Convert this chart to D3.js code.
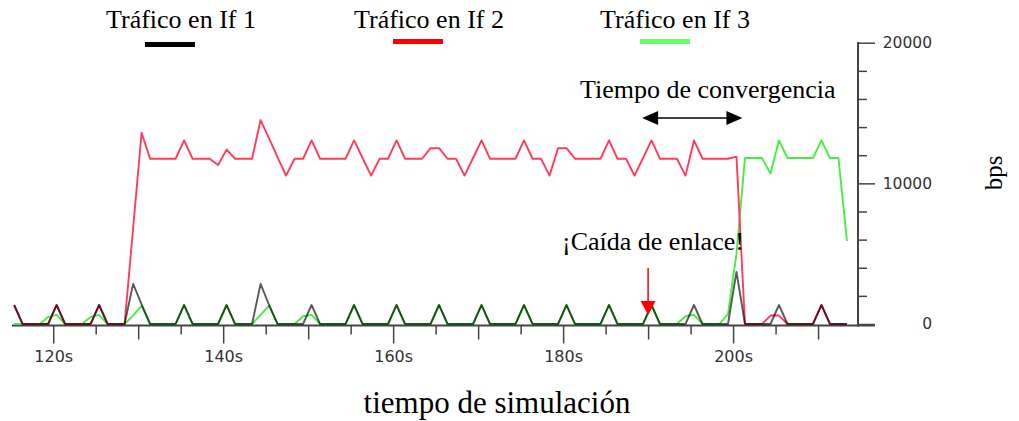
<!DOCTYPE html>
<html><head><meta charset="utf-8">
<script src="https://cdn.jsdelivr.net/npm/d3@7"></script>
<style>body{margin:0;background:#fff} svg{display:block}</style>
</head><body>
<svg id="c" width="1019" height="421"></svg>
<script>
// sample times (s)
const times = [115.4,116.4,117.4,118.4,119.4,120.4,121.4,122.4,123.4,124.4,125.4,126.4,127.4,128.4,129.4,130.4,131.4,132.4,133.4,134.4,
 135.4,136.4,137.4,138.4,139.4,140.4,141.4,142.4,143.4,144.4,145.4,146.4,147.4,148.4,149.4,150.4,151.4,152.4,153.4,154.4,
 155.4,156.4,157.4,158.4,159.4,160.4,161.4,162.4,163.4,164.4,165.4,166.4,167.4,168.4,169.4,170.4,171.4,172.4,173.4,174.4,
 175.4,176.4,177.4,178.4,179.4,180.4,181.4,182.4,183.4,184.4,185.4,186.4,187.4,188.4,189.4,190.4,191.4,192.4,193.4,194.4,
 195.4,196.4,197.4,198.4,199.4,200.4,201.4,202.4,203.4,204.4,205.4,206.4,207.4,208.4,209.4,210.4,211.4,212.4,213.4];
// Tráfico en If 1 (bps)
const if1 = [1350,0,0,0,0,1350,0,0,0,0,1350,0,0,0,2850,1400,0,0,0,0,
 1350,0,0,0,0,1350,0,0,0,2850,1350,0,0,0,0,1350,0,0,0,0,
 1350,0,0,0,0,1350,0,0,0,0,1350,0,0,0,0,1350,0,0,0,0,
 1350,0,0,0,0,1350,0,0,0,0,1350,0,0,0,0,1350,0,0,0,0,
 1350,0,0,0,0,3700,0,0,0,0,1350,0,0,0,0,1350,0,0,0];
// Tráfico en If 2 (bps)
const if2 = [1350,0,0,0,0,1350,0,0,0,0,1350,0,0,0,6800,13600,11750,11750,11750,11750,
 13050,11750,11750,11750,11300,12400,11750,11750,11750,14500,13200,11850,10550,11750,11750,13050,11750,11750,11750,11750,
 13050,11800,10550,11750,11750,13050,11750,11750,11750,12500,12500,11750,11750,10550,11800,13050,11750,11750,11750,11750,
 13050,11750,11750,10550,12500,12500,11750,11750,11750,11750,13050,11750,11750,10550,11800,13050,11750,11750,11750,10550,
 13050,11750,11750,11750,11750,11900,0,0,0,600,600,0,0,0,0,1350,0,0,0];
// Tráfico en If 3 (bps)
const if3 = [0,0,0,0,500,650,0,0,0,500,650,0,0,0,600,1300,0,0,0,0,
 1350,0,0,0,0,1350,0,0,0,650,1300,0,0,0,550,650,0,0,0,0,
 1350,0,0,0,0,1350,0,0,0,0,1350,0,0,0,0,1350,0,0,0,0,
 1350,0,0,0,0,1350,0,0,0,0,1350,0,0,0,0,1350,0,0,0,550,
 650,0,0,0,700,5000,11800,11800,11800,10700,13050,11800,11800,11800,11800,13050,11800,11800,5900];

const seriesNames = ["Tráfico en If 1","Tráfico en If 2","Tráfico en If 3"];
const legendColors = ["#000000","#ff0000","#66ff66"];
const xTicks = [120,125,130,135,140,145,150,155,160,165,170,175,180,185,190,195,200,205,210];
const xLabelTicks = [120,140,160,180,200];
const yTicks = [0,2000,4000,6000,8000,10000,12000,14000,16000,18000,20000];
const yLabelTicks = [0,10000,20000];

const svg = d3.select("#c");
const serif = "'Liberation Serif','Times New Roman',serif";
const sans = "'DejaVu Sans',sans-serif";

const x = d3.scaleLinear().domain([115.15, 214.7]).range([12, 858]);
const y = d3.scaleLinear().domain([0, 20000]).range([324, 42.7]);
const baseY = 325.5;

// x axis
const xa = svg.append("g").attr("transform", `translate(0,${baseY})`)
  .call(d3.axisBottom(x).tickValues(xTicks).tickSize(9)
    .tickFormat(d => xLabelTicks.includes(d) ? d + "s" : ""));
xa.select(".domain").remove();
xa.selectAll(".tick line")
  .attr("y2", d => d % 20 === 0 ? 18 : (d % 10 === 0 ? 14 : 9))
  .attr("stroke", "#444").attr("stroke-width", 1.5);
xa.selectAll(".tick text").attr("y", 25).attr("dy", "0.71em")
  .attr("font-family", sans).attr("font-size", 16).attr("fill", "#333");
svg.append("line").attr("x1", 12).attr("x2", 875).attr("y1", baseY).attr("y2", baseY)
  .attr("stroke", "#444").attr("stroke-width", 2);

// right y axis
const ya = svg.append("g").attr("transform", `translate(${x.range()[1]},0)`)
  .call(d3.axisRight(y).tickValues(yTicks).tickSize(9)
    .tickFormat(d => yLabelTicks.includes(d) ? d : ""));
ya.select(".domain").remove();
ya.selectAll(".tick line")
  .attr("x2", d => yLabelTicks.includes(d) ? 17 : 9)
  .attr("stroke", "#444").attr("stroke-width", 1.5);
ya.selectAll(".tick text").attr("x", 74).attr("text-anchor", "end")
  .attr("font-family", sans).attr("font-size", 15.5).attr("fill", "#333");
svg.append("line").attr("x1", 858).attr("x2", 858).attr("y1", y(20000) - 0.75).attr("y2", baseY + 1)
  .attr("stroke", "#444").attr("stroke-width", 2);

// lines
const line = vals => d3.line().x((d, i) => x(times[i])).y(d => y(d))(vals);
svg.append("path").attr("d", line(if3)).attr("fill", "none")
  .attr("stroke", "#44ee44").attr("stroke-width", 1.9).attr("stroke-linejoin", "round");
svg.append("path").attr("d", line(if2)).attr("fill", "none")
  .attr("stroke", "#ff3c5c").attr("stroke-width", 1.9).attr("stroke-linejoin", "round");
svg.append("path").attr("d", line(if1)).attr("fill", "none")
  .attr("stroke", "#000").attr("stroke-opacity", 0.65).attr("stroke-width", 1.9).attr("stroke-linejoin", "round");

// legend
const legX = [181, 429, 675];
const barX = [145, 393, 640];
const barY = [42, 39, 39];
seriesNames.forEach((n, i) => {
  svg.append("text").attr("x", legX[i]).attr("y", 28).attr("text-anchor", "middle")
    .attr("font-family", serif).attr("font-size", 26).attr("fill", "#000").text(n);
  svg.append("rect").attr("x", barX[i]).attr("y", barY[i]).attr("width", 50).attr("height", 5)
    .attr("fill", legendColors[i]);
});

// annotations
svg.append("text").attr("x", 580).attr("y", 98).attr("font-family", serif).attr("font-size", 26)
  .attr("fill", "#000").text("Tiempo de convergencia");
const ay = 118, ax1 = x(189.3), ax2 = x(201.1);
svg.append("line").attr("x1", ax1 + 10).attr("x2", ax2 - 10).attr("y1", ay).attr("y2", ay)
  .attr("stroke", "#000").attr("stroke-width", 1.5);
svg.append("path").attr("d", `M${ax1},${ay} L${ax1 + 16},${ay - 7} L${ax1 + 16},${ay + 7} Z`).attr("fill", "#000");
svg.append("path").attr("d", `M${ax2},${ay} L${ax2 - 16},${ay - 7} L${ax2 - 16},${ay + 7} Z`).attr("fill", "#000");

svg.append("text").attr("x", 562).attr("y", 250).attr("font-family", serif).attr("font-size", 26)
  .attr("fill", "#000").text("¡Caída de enlace!");
const rx = x(190);
svg.append("line").attr("x1", rx).attr("x2", rx).attr("y1", 268).attr("y2", 303)
  .attr("stroke", "#ff0000").attr("stroke-width", 1.5);
svg.append("path").attr("d", `M${rx - 7.5},301 L${rx + 7.5},301 L${rx},315 Z`).attr("fill", "#ff0000");

// axis titles
svg.append("text").attr("x", 497).attr("y", 413).attr("text-anchor", "middle")
  .attr("font-family", serif).attr("font-size", 31).attr("fill", "#000").text("tiempo de simulación");
svg.append("text").attr("transform", "translate(1002,173) rotate(-90)").attr("text-anchor", "middle")
  .attr("font-family", serif).attr("font-size", 25).attr("fill", "#000").text("bps");
</script>
</body></html>
